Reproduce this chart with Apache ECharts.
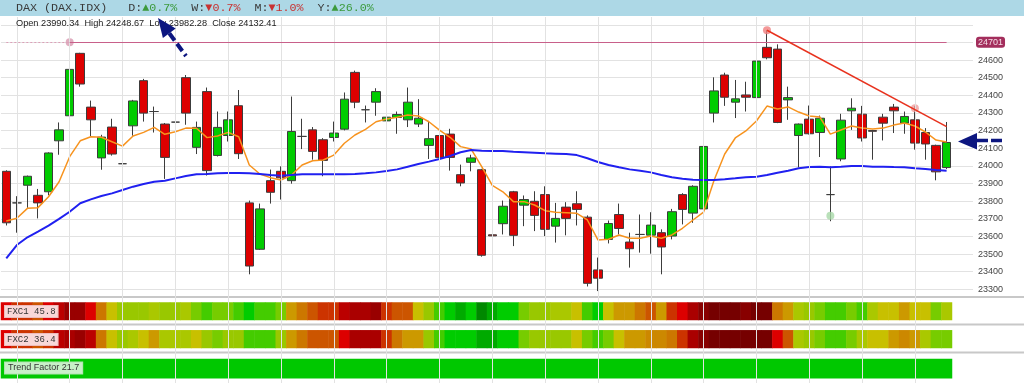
<!DOCTYPE html>
<html><head><meta charset="utf-8">
<script src="https://cdn.jsdelivr.net/npm/echarts@6/dist/echarts.min.js"></script>
<style>html,body{margin:0;padding:0;background:#fff}#c{width:1024px;height:383px}</style>
</head><body><div id="c"></div>
<script>
// ---------- data ----------
const categories = Array.from({length: 90}, (_, i) => 'D' + (i + 1));
const weeklyGridDays = [1,6,11,16,21,26,31,36,41,46,51,56,61,66,71,76,81,86];
const yTickLabels = [23300,23400,23500,23600,23700,23800,23900,24000,24100,24200,24300,24400,24500,24600];

const open = [23969,23790,23890,23833,23853,24142,24284,24638,24333,24045,
24220,24012,24227,24483,24308,24237,24248,24500,24105,24421,
24059,24172,24341,23790,23527,23916,23969,23916,24167,24204,
24148,24161,24208,24530,24318,24361,24255,24274,24261,24237,
24116,24172,24180,23950,24020,23978,23609,23672,23853,23777,
23799,23837,23658,23766,23785,23709,23410,23583,23724,23568,
23611,23607,23621,23602,23837,23732,23756,24299,24515,24361,
24402,24387,24672,24662,24374,24172,24265,24189,23837,24039,
24312,24293,24200,24276,24333,24242,24261,24189,24116,23990.34];
const close = [23677,23790,23941,23790,24073,24204,24547,24464,24261,24163,
24067,24012,24368,24299,24308,24048,24248,24299,24218,23973,
24218,24261,24069,23432,23756,23850,23932,24195,24167,24082,
24031,24186,24378,24361,24318,24421,24276,24291,24361,24270,
24154,24048,24048,23903,24045,23493,23603,23771,23606,23809,
23719,23640,23702,23702,23753,23334,23363,23673,23645,23530,
23611,23664,23540,23740,23753,23884,24110,24425,24389,24380,
24389,24594,24613,24246,24387,24237,24182,24270,23837,24259,
24327,24158,24196,24242,24312,24280,24129,24124,23966,24132.41];
const high = [23975,23828,23945,23869,24077,24246,24609,24641,24370,24176,
24267,24208,24374,24493,24336,24243,24314,24515,24251,24444,
24308,24308,24430,23803,23786,23979,23997,24393,24267,24220,
24157,24251,24416,24540,24342,24440,24370,24308,24444,24378,
24255,24204,24210,24007,24063,23983,23709,23803,23858,23832,
23856,23884,23790,23794,23856,23719,23480,23690,23786,23621,
23724,23737,23640,23756,23845,23890,24163,24502,24528,24487,
24477,24632,24769,24689,24449,24240,24342,24285,23997,24295,
24383,24340,24204,24295,24351,24308,24340,24214,24120,24248.67];
const low = [23662,23621,23762,23702,23833,24063,24261,24449,24167,23978,
24058,23969,24171,24251,24189,23926,24120,24233,24067,23945,
24053,24138,24039,23385,23523,23786,23809,23899,24095,24035,
23941,24138,24201,24327,24246,24284,24220,24182,24220,24220,
24039,23978,23973,23884,23969,23485,23508,23611,23545,23658,
23630,23602,23565,23606,23662,23316,23290,23560,23611,23423,
23508,23502,23385,23583,23668,23677,23752,24246,24340,24271,
24308,24364,24604,24242,24261,23991,24178,24050,23686,24026,
24204,24138,24035,24144,24186,24182,24092,24035,23918,23982.28];

const maFast = [23687,23703,23759,23763,23825,23910,24052,24142,24165,24162,
24137,24112,24169,24190,24218,24179,24193,24214,24213,24160,
24169,24190,24165,24005,23954,23933,23920,23948,24005,24029,
24033,24061,24128,24175,24207,24250,24266,24275,24288,24283,
24250,24203,24162,24109,24095,23996,23889,23853,23797,23797,
23778,23746,23737,23734,23731,23693,23580,23584,23608,23589,
23589,23602,23589,23608,23646,23693,23738,23920,24067,24158,
24198,24254,24339,24322,24334,24305,24283,24277,24180,24203,
24226,24214,24209,24214,24231,24243,24226,24192,24146,24135];
const maSlow = [23476,23551,23595,23627,23661,23699,23740,23788,23810,23829,
23844,23863,23882,23897,23910,23916,23929,23942,23952,23954,
23958,23959,23959,23958,23954,23948,23944,23948,23952,23952,
23952,23952,23952,23954,23958,23963,23971,23980,23995,24010,
24024,24039,24056,24077,24090,24086,24084,24084,24080,24077,
24074,24071,24069,24067,24061,24043,24022,24005,23992,23980,
23972,23963,23948,23935,23927,23921,23920,23920,23924,23929,
23935,23938,23948,23961,23972,23986,23993,23995,23992,23995,
23999,23999,23995,23995,23993,23992,23986,23982,23976,23972];

// oscillator colour levels per day (index into levelColors)
const fxc1Levels = [5,6,6,7,5,4,2,2,5,8, 11,13,13,13,12,13,13,12,14,15, 14,14,15,16,15,15,14,10,8,7,
 6,6,4,3,3,2,6,7,7,11, 13,15,16,17,16,18,17,16,16,14, 13,13,12,12,11,15,16,11,10,10,
 8,7,10,6,5,3,1,0,0,0, 1,0,0,8,10,12,13,14,15,15, 14,15,12,11,11,10,11,11,14,12];
const fxc2Levels = [5,6,6,7,6,4,3,2,4,8, 11,13,12,11,10,12,12,12,11,13, 14,13,13,15,15,15,13,10,8,7,
 7,7,5,3,3,3,6,8,10,10, 13,15,16,16,16,17,17,16,16,14, 13,13,13,13,11,14,15,14,11,10,
 10,9,9,8,6,3,1,0,0,0, 0,0,0,5,7,12,13,14,15,15, 14,12,11,11,10,9,10,12,14,14];
const fxc1Value = 45.8, fxc2Value = 36.4, trendFactor = 21.7;
const changes = {D: 0.7, W: -0.7, M: -1.0, Y: 26.0};
const resistanceLevel = 24701;
// trend lines [dayIndex, price]
const upperTrend = [[72, 24769], [89, 24222]];
const lowerTrend = [[56, 23280], [89, 23938]];
const minorTrend = [[88, 23290], [89, 23310]];
const anchorPoints = [[6, 24701, '#d898b0'], [72, 24769, '#f08080'], [86, 24326, '#f0a0a0'], [78, 23717, '#a8d8a8']];

const levelColors = ['#760000','#880000','#990000','#aa0000','#bb0000','#dd0000','#cc3300','#cc5500','#cc7700',
 '#cc8800','#cc9900','#c8c000','#aac800','#99c800','#77cc00','#44cc00','#00cc00','#00aa00','#008800'];

// ---------- chart ----------
const chart = echarts.init(document.getElementById('c'), null, {renderer: 'canvas'});
const ohlc = open.map((o, i) => [o, close[i], low[i], high[i]]);
const last = open.length - 1;
const fmt = v => v.toFixed(2);
const arrowC = '#0c1680';
const sgn = v => (v >= 0 ? '{u|▲' : '{d|▼') + Math.abs(v).toFixed(1) + '%}';

const option = {
  animation: false,
  backgroundColor: '#fff',
  textStyle: {fontFamily: 'Liberation Sans'},
  grid: [
    {left: 1, right: 51, top: 17, bottom: 0},
    {left: 1, right: 51, top: 17, height: 272.3},
    {left: 1, width: 951, top: 302.5, height: 17.5},
    {left: 1, width: 951, top: 330.3, height: 17.7},
    {left: 1, width: 951, top: 359, height: 19.3}
  ],
  xAxis: [
    {gridIndex: 0, type: 'category', data: categories, max: 91, show: false},
    {gridIndex: 1, type: 'category', data: categories, max: 91, show: false},
    {gridIndex: 2, type: 'category', data: categories, show: false},
    {gridIndex: 3, type: 'category', data: categories, show: false},
    {gridIndex: 4, type: 'category', data: ['TF'], show: false}
  ],
  yAxis: [
    {gridIndex: 0, type: 'value', min: 0, max: 1, show: false},
    {gridIndex: 1, type: 'value', position: 'right', min: 23300, max: 24844, interval: 100,
     axisLine: {show: false}, axisTick: {show: false},
     axisLabel: {margin: 5, fontSize: 9, color: '#444', fontFamily: 'Liberation Sans',
       formatter: v => yTickLabels.indexOf(v) >= 0 ? String(v) : ''},
     splitLine: {show: true, showMaxLine: false, lineStyle: {color: '#e2e2e2', width: 1}}},
    {gridIndex: 2, type: 'category', data: ['FXC1'], show: false},
    {gridIndex: 3, type: 'category', data: ['FXC2'], show: false},
    {gridIndex: 4, type: 'category', data: ['TF'], show: false}
  ],
  visualMap: [
    {type: 'piecewise', show: false, seriesIndex: [5, 6], dimension: 2,
     pieces: levelColors.map((c, i) => ({value: i, color: c}))},
    {type: 'piecewise', show: false, seriesIndex: [7], dimension: 2,
     pieces: [{min: 0, max: 100, color: '#00c800'}]}
  ],
  series: [
    {type: 'line', xAxisIndex: 0, yAxisIndex: 0, data: [], silent: true,
     markLine: {silent: true, symbol: 'none', label: {show: false}, animation: false,
       lineStyle: {color: '#e2e2e2', type: 'solid', width: 1},
       data: weeklyGridDays.map(d => ({xAxis: d}))}},
    {type: 'candlestick', name: 'DAX', xAxisIndex: 1, yAxisIndex: 1, data: ohlc, barWidth: 9, clip: false,
     itemStyle: {color: '#00cc00', color0: '#dd0000', borderColor: '#3c3c3c', borderColor0: '#3c3c3c', borderWidth: 1},
     markLine: {silent: true, symbol: 'none', label: {show: false}, animation: false,
       data: [
         [{coord: [0, resistanceLevel], lineStyle: {color: '#dca0b8', type: [2, 2], width: 1}}, {coord: [6, resistanceLevel]}],
         [{coord: [6, resistanceLevel], lineStyle: {color: '#c8608a', type: 'solid', width: 1}}, {coord: [89, resistanceLevel]}],
         [{coord: upperTrend[0], lineStyle: {color: '#e8321e', type: 'solid', width: 1.5}}, {coord: upperTrend[1]}],
         [{coord: lowerTrend[0], lineStyle: {color: '#5e9e82', type: 'solid', width: 1.5}}, {coord: lowerTrend[1]}],
         [{coord: minorTrend[0], lineStyle: {color: '#f07060', type: 'solid', width: 1}}, {coord: minorTrend[1]}]
       ]}},
    {type: 'line', name: 'MA fast', xAxisIndex: 1, yAxisIndex: 1, data: maFast, showSymbol: false, smooth: false,
     lineStyle: {color: '#f7931e', width: 1.5}},
    {type: 'line', name: 'MA slow', xAxisIndex: 1, yAxisIndex: 1, data: maSlow, showSymbol: false,
     lineStyle: {color: '#2020f0', width: 2}},
    {type: 'scatter', xAxisIndex: 1, yAxisIndex: 1, symbolSize: 8,
     data: anchorPoints.map(p => ({value: [p[0], p[1]], itemStyle: {color: p[2], opacity: 0.8}}))},
    {type: 'heatmap', xAxisIndex: 2, yAxisIndex: 2, data: fxc1Levels.map((v, i) => [i, 0, v])},
    {type: 'heatmap', xAxisIndex: 3, yAxisIndex: 3, data: fxc2Levels.map((v, i) => [i, 0, v])},
    {type: 'heatmap', xAxisIndex: 4, yAxisIndex: 4, data: [[0, 0, trendFactor]]}
  ],
  graphic: [
    {type: 'rect', z: -1, shape: {x: 0, y: 0, width: 1024, height: 16}, style: {fill: '#add8e6'}},
    {type: 'text', x: 16, y: 2, z: 10, style: {
      text: '{k|DAX (DAX.IDX)}   {k|D:}' + sgn(changes.D) + '  {k|W:}' + sgn(changes.W) + '  {k|M:}' + sgn(changes.M) + '  {k|Y:}' + sgn(changes.Y),
      font: '11.7px "Liberation Mono"',
      rich: {k: {fill: '#3a3a3a', font: '11.7px "Liberation Mono"'},
             u: {fill: '#3c9a3c', font: '11.7px "Liberation Mono"'},
             d: {fill: '#c83232', font: '11.7px "Liberation Mono"'}}}},
    {type: 'text', x: 16, y: 19, z: 10, style: {
      text: 'Open ' + fmt(open[last]) + '  High ' + fmt(high[last]) + '  Low ' + fmt(low[last]) + '  Close ' + fmt(close[last]),
      font: '9.2px "Liberation Sans"', fill: '#222'}},
    {type: 'rect', shape: {x: 0, y: 296, width: 1024, height: 2}, style: {fill: '#c8c8c8'}},
    {type: 'rect', shape: {x: 0, y: 323.5, width: 1024, height: 2}, style: {fill: '#c8c8c8'}},
    {type: 'rect', shape: {x: 0, y: 351.5, width: 1024, height: 2}, style: {fill: '#c8c8c8'}},
    {type: 'text', x: 5, y: 306, z: 10, style: {text: 'FXC1 ' + fxc1Value.toFixed(1), font: '9px "Liberation Mono"', fill: '#333',
      backgroundColor: '#f8d8d8', borderColor: '#eebcbc', borderWidth: 1, padding: [1, 2, 1, 2]}},
    {type: 'text', x: 5, y: 334, z: 10, style: {text: 'FXC2 ' + fxc2Value.toFixed(1), font: '9px "Liberation Mono"', fill: '#333',
      backgroundColor: '#f8d8d8', borderColor: '#eebcbc', borderWidth: 1, padding: [1, 2, 1, 2]}},
    {type: 'text', x: 5, y: 362.5, z: 10, style: {text: 'Trend Factor ' + trendFactor.toFixed(1), font: '9px "Liberation Sans"', fill: '#333',
      backgroundColor: '#c8f0c8', borderColor: '#b0e4b0', borderWidth: 1, padding: [1, 3, 1, 3]}},
    // arrows (annotations)
    {type: 'polygon', z: 20, shape: {points: [[158, 18], [175.7, 28.6], [162.9, 38.0]]}, style: {fill: arrowC}},
    {type: 'line', z: 20, shape: {x1: 169.3, y1: 33.3, x2: 186, y2: 56}, style: {stroke: arrowC, lineWidth: 4, lineDash: [9, 4]}},
    {type: 'polygon', z: 20, shape: {points: [[958, 141.5], [977, 133], [977, 149.5]]}, style: {fill: arrowC}},
    {type: 'line', z: 20, shape: {x1: 977, y1: 140.5, x2: 1004, y2: 140.5}, style: {stroke: arrowC, lineWidth: 3.5, lineDash: [11, 3]}}
  ]
};
chart.setOption(option);

// resistance badge on the price axis
const by = chart.convertToPixel({yAxisIndex: 1}, resistanceLevel);
chart.setOption({graphic: option.graphic.concat([
  {type: 'text', x: 976, y: by - 5.5, z: 20, style: {text: String(resistanceLevel), font: '9px "Liberation Sans"', fill: '#f4dce6',
    backgroundColor: '#a32e5c', borderRadius: 3, padding: [1, 2, 1, 2]}}
])});
</script>
</body></html>
